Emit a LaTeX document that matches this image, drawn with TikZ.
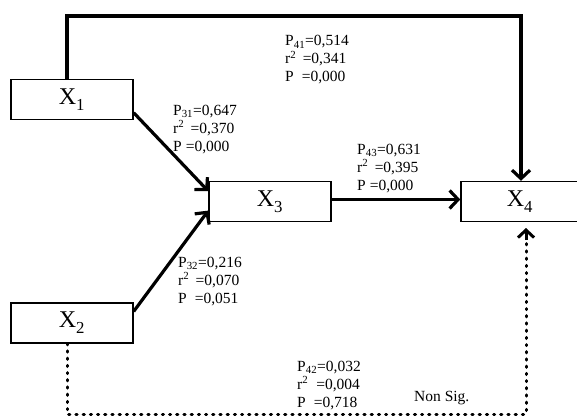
\documentclass[tikz,border=0pt]{standalone}
\usepackage{fontspec}
\setmainfont{Liberation Serif}
\usetikzlibrary{arrows.meta,calc}
\begin{document}
\begin{tikzpicture}[x=1pt,y=-1pt,
 var/.style={draw, line width=1.4pt, minimum width=122pt, minimum height=40pt, inner sep=0pt, font=\fontsize{24}{26}\selectfont},
 tip/.style={-{Straight Barb[length=8.5pt,width=18pt]}},
 conn/.style={line width=3.2pt, tip},
 nsline/.style={line width=3pt, line cap=round, dash pattern=on 1.2pt off 6pt},
 lab/.style={anchor=base west, inner sep=0pt, font=\fontsize{15.5}{18}\selectfont}]
\useasboundingbox (0,0) rectangle (577,417);
% boxes
\node[var] (x1) at (72,99.5) {X\textsubscript{\raisebox{-2pt}{1}}};
\node[var] (x2) at (72,323) {X\textsubscript{\raisebox{-2pt}{2}}};
\node[var] (x3) at (270,201.5) {X\textsubscript{\raisebox{-2pt}{3}}};
\node[var, minimum width=124pt] (x4) at (523,201.5) {\hspace*{-6pt}X\textsubscript{\raisebox{-2pt}{4}}};
% helper coordinates
\coordinate (tl) at (67,16);
\coordinate (tr) at (521,16);
\coordinate (bl) at (67,414);
\coordinate (br) at (526,414);
\coordinate (bt) at (526,240);
\coordinate (bh) at (526,228);
% connectors
\draw[conn] (x1.north -| tl) -- (tl) -- (tr) -- (tr |- x4.north);
\draw[conn] ($(x1.north east)!0.82!(x1.south east)$) -- ($(x3.north west)!0.25!(x3.south west)$);
\draw[conn] ($(x2.north east)!0.22!(x2.south east)$) -- ($(x3.north west)!0.72!(x3.south west)$);
\draw[conn] ($(x3.east)+(0,-2)$) -- ($(x4.west)+(0,-2)$);
\draw[nsline] (x2.south -| bl) -- (bl) -- (br) -- (bt);
\draw[line width=3pt, -{Straight Barb[length=7.5pt,width=16pt]}] (bt) -- (bh);
% labels
\node[lab] (a1) at (285,46) {P\textsubscript{41}=0,514};
\node[lab] (a2) at (285,64) {r\textsuperscript{2}\ \,=0,341};
\node[lab] (a3) at (285,82) {P\hspace{8pt}=0,000};
\node[lab] (b1) at (173,115) {P\textsubscript{31}=0,647};
\node[lab] (b2) at (173,133) {r\textsuperscript{2}\ \,=0,370};
\node[lab] (b3) at (173,151) {P\hspace{4pt}=0,000};
\node[lab] (c1) at (357,154) {P\textsubscript{43}=0,631};
\node[lab] (c2) at (357,172) {r\textsuperscript{2}\ \,=0,395};
\node[lab] (c3) at (357,190) {P\hspace{4pt}=0,000};
\node[lab] (d1) at (178,267) {P\textsubscript{32}=0,216};
\node[lab] (d2) at (178,285) {r\textsuperscript{2}\ \,=0,070};
\node[lab] (d3) at (178,303) {P\hspace{8pt}=0,051};
\node[lab] (e1) at (297,371) {P\textsubscript{42}=0,032};
\node[lab] (e2) at (297,389) {r\textsuperscript{2}\hspace{8pt}=0,004};
\node[lab] (e3) at (297,407) {P\hspace{8pt}=0,718};
\node[lab] (ns) at (414,401) {Non Sig.};
\end{tikzpicture}
\end{document}
